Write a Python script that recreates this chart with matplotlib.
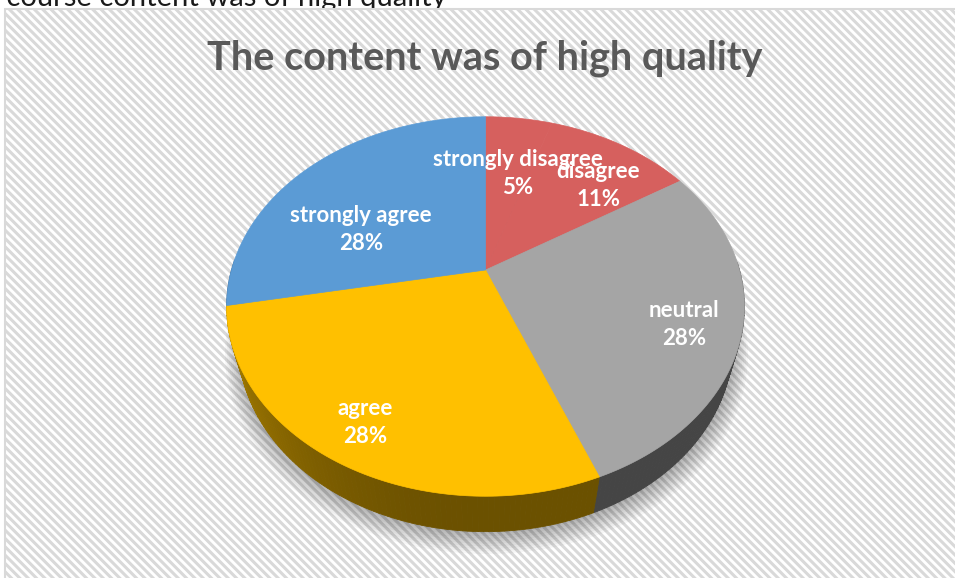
import numpy as np
import matplotlib
matplotlib.use('Agg')
import matplotlib.pyplot as plt
from matplotlib.patches import Polygon, Rectangle

# Dados do gráfico
categorias = ['strongly disagree', 'disagree', 'neutral', 'agree', 'strongly agree']
percentuais = [5, 11, 28, 28, 28]
cores_topo = ['#d6605e', '#d6605e', '#a5a5a5', '#ffc000', '#5b9bd5']
titulo = 'The content was of high quality'
texto_cortado = 'The course content was of high quality'

# Posicionamento dos rótulos (raio relativo e desvio angular, como no Excel)
raio_rotulos = [0.607, 0.703, 0.790, 0.826, 0.561]
desvio_angulo = [-4.6, -6.1, -2.9, -0.7, 15.5]

plt.rcParams['font.family'] = ['Lato', 'DejaVu Sans']
plt.rcParams['hatch.color'] = '#f0f0f0'
plt.rcParams['hatch.linewidth'] = 2.2

# Geometria da pizza 3D (perspectiva)
cx, cy, escala = 485.5, 270.0, 254.0
phi = np.radians(46.0)
dist = 3.61
altura = 0.23


def projeta(theta, r, z):
    t = np.radians(theta)
    X = r * np.cos(t)
    Y = r * np.sin(t)
    v = Y * np.sin(phi) + z * np.cos(phi)
    w = Y * np.cos(phi) - z * np.sin(phi)
    f = dist / (dist + w)
    return cx + escala * X * f, cy - escala * v * f


def sombra_parede(theta):
    c = np.cos(np.radians(theta))
    return 0.42 + 0.22 * max(0.0, -c) ** 2


fig = plt.figure(figsize=(9.55, 5.78), dpi=100)
ax = fig.add_axes([0, 0, 1, 1])
ax.set_xlim(0, 955)
ax.set_ylim(578, 0)
ax.axis('off')

# Texto cortado no topo
ax.text(447, 6, texto_cortado, ha='right', va='baseline', fontsize=21,
        color='#1a1a1a', zorder=0)

# Área do gráfico com fundo hachurado
ax.add_patch(Rectangle((5, 9), 960, 580, facecolor='white', edgecolor='#d9d9d9',
                       hatch='\\\\\\\\', linewidth=1.5, zorder=1))

# Ângulos das fatias (sentido horário a partir do topo)
fracoes = np.array(percentuais) / sum(percentuais) * 360
inicio = 90 - np.concatenate([[0], np.cumsum(fracoes)[:-1]])
fim = inicio - fracoes

# Sombra sob a pizza
ang = np.linspace(0, 360, 361)
for k in range(9):
    xs, ys = projeta(ang, 1.0 + 0.007 * k, -altura)
    ax.add_patch(Polygon(np.column_stack([xs + 1, ys + 2 + 0.6 * k]), closed=True,
                         facecolor='#000000', edgecolor='none', alpha=0.035, zorder=2))

# Paredes laterais
for a0, a1, cor in zip(inicio, fim, cores_topo):
    passos = np.arange(a0, a1, -1.0)
    passos = np.append(passos, a1)
    base = np.array(matplotlib.colors.to_rgb(cor))
    for t0, t1 in zip(passos[:-1], passos[1:]):
        tm = 0.5 * (t0 + t1)
        if np.sin(np.radians(tm)) > 0.05:
            continue
        x0, y0 = projeta(t0, 1.0, 0)
        x1, y1 = projeta(t1, 1.0, 0)
        x2, y2 = projeta(t1, 1.0, -altura)
        x3, y3 = projeta(t0, 1.0, -altura)
        c = base * sombra_parede(tm)
        ax.add_patch(Polygon([[x0, y0], [x1, y1], [x2, y2], [x3, y3]], closed=True,
                             facecolor=c, edgecolor=c, linewidth=0.6, zorder=3))

# Faces superiores
for a0, a1, cor in zip(inicio, fim, cores_topo):
    arco = np.linspace(a0, a1, 120)
    xs, ys = projeta(arco, 1.0, 0)
    pts = np.vstack([[cx, cy], np.column_stack([xs, ys])])
    ax.add_patch(Polygon(pts, closed=True, facecolor=cor, edgecolor=cor,
                         linewidth=0.5, zorder=4))

# Rótulos
for cat, pct, a0, a1, rr, da in zip(categorias, percentuais, inicio, fim,
                                    raio_rotulos, desvio_angulo):
    meio = 0.5 * (a0 + a1) + da
    lx, ly = projeta(meio, rr, 0)
    ax.text(lx, ly, f'{cat}\n{pct}%', ha='center', va='center', fontsize=16,
            fontweight='bold', color='white', linespacing=1.42, zorder=5)

# Título
ax.text(485, 58, titulo, ha='center', va='center', fontsize=28.5, fontweight='bold',
        color='#595959', zorder=5)

fig.savefig('out.png', dpi=100)
